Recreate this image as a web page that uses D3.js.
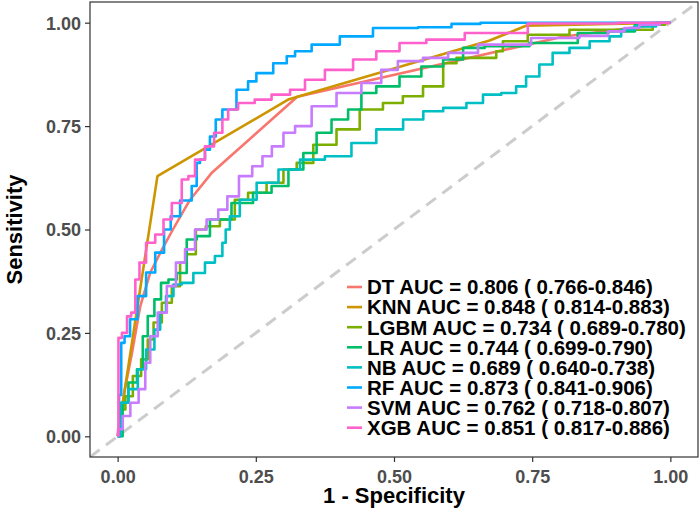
<!DOCTYPE html>
<html>
<head>
<meta charset="utf-8">
<script src="https://cdn.jsdelivr.net/npm/d3@7"></script>
<style>
  body { margin: 0; background: #fff; }
  text { font-family: "Liberation Sans", Arial, sans-serif; font-weight: bold; }
</style>
</head>
<body>
<div id="chart"></div>
<script>
// ROC points: [1 - specificity, sensitivity]
const dt = [[0,0],[0.013,0.113],[0.026,0.202],[0.041,0.315],[0.059,0.396],[0.082,0.456],[0.10,0.5],[0.131,0.572],[0.171,0.638],[0.325,0.821],[0.805,0.966],[1,1]];
const knn = [[0,0],[0.072,0.629],[0.31,0.815],[0.673,0.957],[0.74,0.993],[1,1]];
const lgbm = [[0,0],[0.008,0.065],[0.02,0.097],[0.035,0.146],[0.05,0.186],[0.059,0.234],[0.071,0.275],[0.089,0.323],[0.107,0.363],[0.119,0.42],[0.131,0.44],[0.152,0.5],[0.167,0.508],[0.203,0.524],[0.221,0.572],[0.251,0.589],[0.288,0.613],[0.312,0.645],[0.336,0.661],[0.372,0.705],[0.42,0.742],[0.456,0.79],[0.504,0.806],[0.528,0.822],[0.577,0.846],[0.601,0.902],[0.625,0.915],[0.679,0.915],[0.691,0.931],[0.703,0.955],[0.781,0.971],[0.854,0.983],[0.956,0.983],[0.98,0.995],[1,1]];
const lr = [[0,0],[0.008,0],[0.01,0.081],[0.029,0.13],[0.041,0.162],[0.05,0.242],[0.059,0.291],[0.074,0.331],[0.083,0.371],[0.101,0.379],[0.113,0.395],[0.137,0.476],[0.149,0.484],[0.185,0.524],[0.227,0.564],[0.263,0.589],[0.294,0.605],[0.324,0.645],[0.348,0.685],[0.372,0.734],[0.402,0.766],[0.432,0.79],[0.45,0.83],[0.486,0.846],[0.534,0.87],[0.565,0.894],[0.613,0.911],[0.637,0.939],[0.691,0.943],[0.799,0.951],[0.866,0.975],[0.91,0.979],[0.962,0.995],[1,1]];
const nb = [[0,0],[0.01,0.081],[0.029,0.114],[0.044,0.162],[0.059,0.21],[0.074,0.258],[0.08,0.299],[0.095,0.339],[0.107,0.367],[0.125,0.371],[0.149,0.395],[0.167,0.42],[0.185,0.436],[0.194,0.468],[0.197,0.5],[0.209,0.532],[0.233,0.572],[0.27,0.613],[0.312,0.645],[0.348,0.669],[0.402,0.677],[0.444,0.709],[0.492,0.742],[0.541,0.766],[0.565,0.786],[0.613,0.794],[0.649,0.806],[0.673,0.826],[0.715,0.83],[0.727,0.846],[0.751,0.87],[0.775,0.899],[0.799,0.927],[0.836,0.939],[0.872,0.955],[0.908,0.967],[0.914,0.983],[0.956,0.991],[0.992,1],[1,1]];
const rf = [[0,0],[0.005,0.1],[0.008,0.226],[0.017,0.242],[0.028,0.283],[0.044,0.339],[0.059,0.396],[0.077,0.444],[0.091,0.5],[0.101,0.532],[0.125,0.57],[0.143,0.605],[0.143,0.661],[0.155,0.669],[0.161,0.693],[0.173,0.725],[0.182,0.766],[0.197,0.79],[0.233,0.838],[0.239,0.858],[0.263,0.878],[0.30,0.902],[0.312,0.919],[0.33,0.931],[0.372,0.947],[0.432,0.967],[0.492,0.987],[0.595,0.989],[0.613,0.997],[0.70,1],[1,1]];
const svm = [[0,0],[0.0015,0.017],[0.017,0.049],[0.029,0.081],[0.047,0.114],[0.053,0.178],[0.065,0.242],[0.08,0.299],[0.098,0.363],[0.113,0.42],[0.131,0.452],[0.149,0.5],[0.173,0.524],[0.191,0.548],[0.206,0.58],[0.233,0.629],[0.254,0.653],[0.27,0.677],[0.288,0.701],[0.312,0.734],[0.33,0.75],[0.372,0.798],[0.42,0.83],[0.462,0.854],[0.492,0.886],[0.522,0.907],[0.583,0.915],[0.613,0.927],[0.691,0.947],[0.805,0.963],[0.866,0.968],[0.908,0.979],[0.926,0.987],[0.962,0.995],[1,1]];
const xgb = [[0.0015,0],[0.0015,0.238],[0.014,0.25],[0.02,0.29],[0.029,0.299],[0.035,0.379],[0.044,0.42],[0.059,0.468],[0.077,0.488],[0.089,0.524],[0.107,0.564],[0.125,0.621],[0.131,0.629],[0.149,0.669],[0.167,0.701],[0.182,0.734],[0.197,0.766],[0.203,0.79],[0.233,0.806],[0.263,0.814],[0.294,0.826],[0.33,0.838],[0.348,0.862],[0.402,0.886],[0.45,0.911],[0.486,0.931],[0.534,0.951],[0.583,0.959],[0.673,0.975],[0.811,0.998],[1,1]];

const models = ["DT", "KNN", "LGBM", "LR", "NB", "RF", "SVM", "XGB"];
const aucLabels = ["0.806 ( 0.766-0.846)", "0.848 ( 0.814-0.883)", "0.734 ( 0.689-0.780)", "0.744 ( 0.699-0.790)",
                   "0.689 ( 0.640-0.738)", "0.873 ( 0.841-0.906)", "0.762 ( 0.718-0.807)", "0.851 ( 0.817-0.886)"];
const colors = ["#F8766D", "#CD9600", "#7CAE00", "#00BE67", "#00BFC4", "#00A9FF", "#C77CFF", "#FF61CC"];
const curves = [dt, knn, lgbm, lr, nb, rf, svm, xgb];
const ticks = [0, 0.25, 0.5, 0.75, 1];

const W = 700, H = 516;
const margin = { top: 2, right: 2, bottom: 59, left: 90 };

const svg = d3.select("#chart").append("svg")
    .attr("width", W).attr("height", H);

const x = d3.scaleLinear().domain([-0.05, 1.05]).range([margin.left, W - margin.right]);
const y = d3.scaleLinear().domain([-0.05, 1.05]).range([H - margin.bottom, margin.top]);

svg.append("clipPath").attr("id", "panel")
  .append("rect")
    .attr("x", margin.left).attr("y", margin.top)
    .attr("width", W - margin.left - margin.right)
    .attr("height", H - margin.top - margin.bottom);

const plot = svg.append("g").attr("clip-path", "url(#panel)");

// reference diagonal
plot.append("line")
    .attr("x1", x(-0.05)).attr("y1", y(-0.05))
    .attr("x2", x(1.05)).attr("y2", y(1.05))
    .attr("stroke", "#cccccc").attr("stroke-width", 3)
    .attr("stroke-dasharray", "12,8");

const line = d3.line().x(d => x(d[0])).y(d => y(d[1]));

curves.forEach((pts, i) => {
  const straight = models[i] === "DT" || models[i] === "KNN";
  plot.append("path")
      .datum(pts)
      .attr("fill", "none")
      .attr("stroke", colors[i])
      .attr("stroke-width", 2.6)
      .attr("stroke-linejoin", "round")
      .attr("d", line.curve(straight ? d3.curveLinear : d3.curveStep));
});

// panel border
svg.append("rect")
    .attr("x", margin.left).attr("y", margin.top)
    .attr("width", W - margin.left - margin.right)
    .attr("height", H - margin.top - margin.bottom)
    .attr("fill", "none").attr("stroke", "#333").attr("stroke-width", 1.2);

// axes
const xAxis = svg.append("g")
    .attr("transform", `translate(0,${H - margin.bottom})`)
    .call(d3.axisBottom(x).tickValues(ticks).tickFormat(d3.format(".2f")).tickSize(5).tickPadding(4));
const yAxis = svg.append("g")
    .attr("transform", `translate(${margin.left},0)`)
    .call(d3.axisLeft(y).tickValues(ticks).tickFormat(d3.format(".2f")).tickSize(5).tickPadding(4));

[xAxis, yAxis].forEach(g => {
  g.select(".domain").remove();
  g.selectAll(".tick line").attr("stroke", "#333").attr("stroke-width", 1.2);
  g.selectAll(".tick text").attr("fill", "#4d4d4d").style("font-size", "18px");
});
xAxis.selectAll(".tick text").attr("dy", "0.95em");
yAxis.selectAll(".tick text").attr("dy", "0.36em");

svg.append("text")
    .attr("x", x(0.5)).attr("y", 503)
    .attr("text-anchor", "middle")
    .style("font-size", "22px")
    .text("1 - Specificity");

svg.append("text")
    .attr("transform", `translate(22,${(margin.top + H - margin.bottom) / 2}) rotate(-90)`)
    .attr("text-anchor", "middle")
    .style("font-size", "22px")
    .text("Sensitivity");

// legend
const legend = svg.append("g").attr("transform", "translate(347,287)");
models.forEach((m, i) => {
  const row = legend.append("g").attr("transform", `translate(0,${i * 20.1})`);
  row.append("line")
      .attr("x1", 0).attr("x2", 15).attr("y1", 0).attr("y2", 0)
      .attr("stroke", colors[i]).attr("stroke-width", 2.6);
  row.append("text")
      .attr("x", 20).attr("dy", "0.36em")
      .style("font-size", "20.5px")
      .text(`${m} AUC = ${aucLabels[i]}`);
});
</script>
</body>
</html>
